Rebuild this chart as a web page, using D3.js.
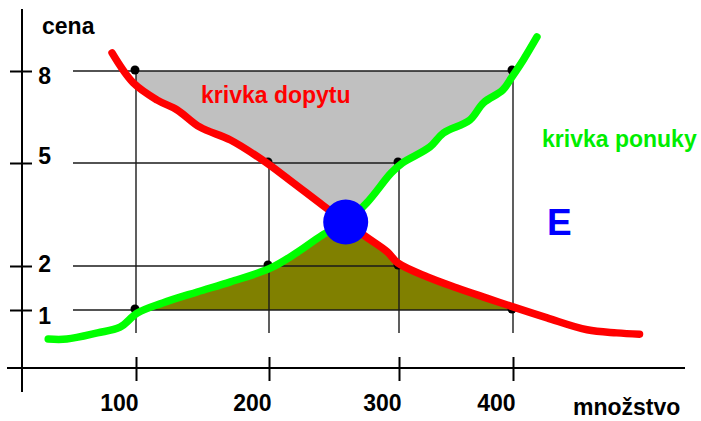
<!DOCTYPE html>
<html>
<head>
<meta charset="utf-8">
<script src="https://cdn.jsdelivr.net/npm/d3@7"></script>
<style>
  body { margin: 0; background: #fff; }
  text { font-family: "Liberation Sans", Arial, sans-serif; font-weight: bold; }
</style>
</head>
<body>
<script>
(function() {

// values: [množstvo, cena]
var quantityTicks = [100, 200, 300, 400];
var priceTicks = [8, 5, 2, 1];

var demand = [[82, 8.59], [98, 7.61], [116, 7.05], [131, 6.73], [148, 6.17], [171, 5.75],
    [195, 5.10], [216, 4.50], [241, 3.78], [259, 3.28], [275, 2.84], [291, 2.41], [299, 2.09],
    [325, 1.75], [351, 1.50], [377, 1.27], [400, 1.07], [430, 0.82], [465, 0.55], [491, 0.48], [511, 0.45]];

var supply = [[34, 0.34], [48, 0.34], [71, 0.48], [88, 0.61], [101, 0.93], [120, 1.16],
    [146, 1.41], [171, 1.64], [201, 1.95], [221, 2.38], [241, 2.90], [259, 3.28], [275, 3.83],
    [294, 4.71], [303, 5.00], [327, 5.52], [339, 5.98], [362, 6.40], [374, 6.96], [391, 7.38],
    [399, 7.80], [409, 8.36], [421, 9.11]];

var equilibrium = [259, 3.28];

// guide lines: horizontal at a price reaching to a quantity, vertical at a quantity up to a price
var guidePrices = [8, 5, 2, 1];
var guideReach = [400, 300, 300, 400];
var guideQuantities = [100, 200, 300, 400];
var guideTops = [8, 5, 5, 8];

var markedPoints = [[100, 8], [200, 5], [300, 2], [400, 1], [100, 1], [200, 2], [300, 5], [400, 8]];

var width = 701, height = 421;
var axisX = 22, axisY = 368, gridLeft = 73, gridBottom = 333;

var svg = d3.select("body").append("svg")
    .attr("width", width)
    .attr("height", height);

// hand drawn axes are uneven, so piecewise scales
var x = d3.scaleLinear().domain(quantityTicks).range([136, 269, 399, 513]);
var y = d3.scaleLinear().domain(priceTicks.slice().sort(d3.ascending)).range([310, 266, 163, 71]);

var px = function(d) { return [x(d[0]), y(d[1])]; };
var line = d3.line();

svg.append("clipPath").attr("id", "box")
  .append("rect")
    .attr("x", x(100)).attr("y", y(8))
    .attr("width", x(400) - x(100))
    .attr("height", y(1) - y(8));

var eqP = equilibrium[1];
// above equilibrium: down the demand curve, back up the supply curve
var upper = demand.filter(function(d) { return d[1] > eqP; })
    .concat([equilibrium], supply.filter(function(d) { return d[1] > eqP; }));
// below: up the supply curve, down the demand curve
var lower = supply.filter(function(d) { return d[1] < eqP; })
    .concat([equilibrium], demand.filter(function(d) { return d[1] < eqP; }));

var fills = svg.append("g").attr("clip-path", "url(#box)");
fills.append("path").attr("d", line(upper.map(px)) + "Z").attr("fill", "#c0c0c0");
fills.append("path").attr("d", line(lower.map(px)) + "Z").attr("fill", "#808000");

// guides
var guides = svg.append("g").attr("stroke", "#1a1a1a").attr("stroke-width", 1.4);
guidePrices.forEach(function(p, i) {
    guides.append("line")
        .attr("x1", gridLeft).attr("x2", x(guideReach[i]))
        .attr("y1", y(p)).attr("y2", y(p));
});
guideQuantities.forEach(function(q, i) {
    guides.append("line")
        .attr("x1", x(q)).attr("x2", x(q))
        .attr("y1", y(guideTops[i])).attr("y2", gridBottom);
});

// axes
svg.append("line")
    .attr("x1", axisX).attr("x2", axisX).attr("y1", 9).attr("y2", 392)
    .attr("stroke", "#000").attr("stroke-width", 2);
svg.append("line")
    .attr("x1", 7).attr("x2", 685).attr("y1", axisY).attr("y2", axisY)
    .attr("stroke", "#000").attr("stroke-width", 2);

var xAxis = svg.append("g")
    .attr("transform", "translate(0," + (axisY - 11) + ")")
    .call(d3.axisBottom(x).tickValues(quantityTicks).tickSize(24).tickFormat(d3.format("d")));
xAxis.select(".domain").remove();
xAxis.selectAll(".tick line").attr("stroke", "#000").attr("stroke-width", 2);
xAxis.selectAll(".tick text")
    .attr("y", 54).attr("dy", null).attr("x", 2)
    .attr("text-anchor", "end")
    .attr("fill", "#000")
    .style("font-size", "23px");

// label nudges per price tick (labels sit unevenly in the original)
var nudge = {8: 12, 5: 0, 2: 5, 1: 13};
var yAxis = svg.append("g")
    .attr("transform", "translate(" + (axisX - 12) + ",0)")
    .call(d3.axisRight(y).tickValues(priceTicks).tickSize(22).tickFormat(d3.format("d")));
yAxis.select(".domain").remove();
yAxis.selectAll(".tick line").attr("stroke", "#000").attr("stroke-width", 2);
yAxis.selectAll(".tick text")
    .attr("dy", null)
    .attr("y", function(d) { return nudge[d]; })
    .attr("x", 41)
    .attr("text-anchor", "end")
    .attr("fill", "#000")
    .style("font-size", "23px");

// marked points
svg.append("g").selectAll("circle")
    .data(markedPoints)
    .enter()
    .append("circle")
    .attr("cx", function(d) { return x(d[0]) - 1; })
    .attr("cy", function(d) { return y(d[1]) - 1; })
    .attr("r", 4.5)
    .attr("fill", "#000");

// curves
var smooth = d3.line().curve(d3.curveCatmullRom.alpha(0.5));
svg.append("path")
    .attr("d", smooth(demand.map(px)))
    .attr("fill", "none").attr("stroke", "#ff0000")
    .attr("stroke-width", 7.5).attr("stroke-linecap", "round").attr("stroke-linejoin", "round");
svg.append("path")
    .attr("d", smooth(supply.map(px)))
    .attr("fill", "none").attr("stroke", "#00ff00")
    .attr("stroke-width", 7.5).attr("stroke-linecap", "round").attr("stroke-linejoin", "round");

svg.append("circle")
    .attr("cx", x(equilibrium[0]))
    .attr("cy", y(equilibrium[1]))
    .attr("r", 22.5)
    .attr("fill", "#0000ff");

// texts
var texts = [
    {t: "cena", x: 42, y: 34, c: "#000", s: 23},
    {t: "množstvo", x: 573, y: 415, c: "#000", s: 23},
    {t: "krivka dopytu", x: 201, y: 103, c: "#ff0000", s: 23},
    {t: "krivka ponuky", x: 542, y: 147, c: "#00ee00", s: 23},
    {t: "E", x: 547, y: 235, c: "#0000ff", s: 37}
];
svg.append("g").selectAll("text")
    .data(texts)
    .enter()
    .append("text")
    .attr("x", function(d) { return d.x; })
    .attr("y", function(d) { return d.y; })
    .attr("fill", function(d) { return d.c; })
    .style("font-size", function(d) { return d.s + "px"; })
    .text(function(d) { return d.t; });

})();
</script>
</body>
</html>
